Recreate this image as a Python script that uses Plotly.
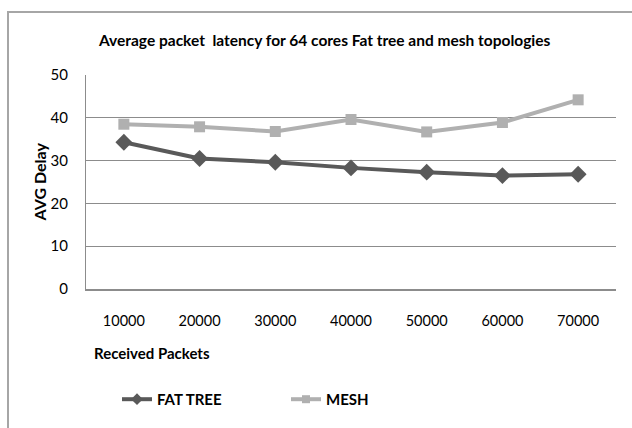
import plotly.graph_objects as go

categories = ["10000", "20000", "30000", "40000", "50000", "60000", "70000"]
fat_tree = [34.3, 30.5, 29.6, 28.3, 27.3, 26.5, 26.8]
mesh = [38.5, 37.9, 36.8, 39.6, 36.7, 38.9, 44.2]
y_ticks = [0, 10, 20, 30, 40, 50]

FONT = "Lato"
DARK, LIGHT = "#595959", "#b0b0b0"
fig = go.Figure()
fig.add_trace(go.Scatter(x=categories, y=fat_tree, name="FAT TREE", mode="lines+markers",
                         line=dict(color=DARK, width=4), showlegend=False,
                         marker=dict(symbol="diamond", size=13, color=DARK)))
fig.add_trace(go.Scatter(x=categories, y=mesh, name="MESH", mode="lines+markers",
                         line=dict(color=LIGHT, width=4), showlegend=False,
                         marker=dict(symbol="square", size=11, color=LIGHT)))
# legend entries with smaller sample markers
fig.add_trace(go.Scatter(x=[None], y=[None], name="<b>FAT TREE</b>", mode="lines+markers",
                         line=dict(color=DARK, width=4),
                         marker=dict(symbol="diamond", size=9, color=DARK)))
fig.add_trace(go.Scatter(x=[None], y=[None], name="<b>MESH</b>", mode="lines+markers",
                         line=dict(color=LIGHT, width=4),
                         marker=dict(symbol="square", size=8, color=LIGHT)))

L, R, T, B = 86, 16, 75, 136
W, H = 632, 428
pw, ph = W - L - R, H - T - B

def px(x):
    return (x - L) / pw

def py(y):
    return (H - B - y) / ph

fig.update_layout(
    width=W, height=H,
    margin=dict(l=L, r=R, t=T, b=B),
    paper_bgcolor="white", plot_bgcolor="white",
    font=dict(family=FONT, size=14, color="#000000"),
    showlegend=True,
    legend=dict(orientation="h", x=px(117), y=py(404), xanchor="left", yanchor="middle",
                font=dict(family=FONT, size=15, color="#000"), entrywidth=124,
                entrywidthmode="pixels", tracegroupgap=0),
    xaxis=dict(type="category", range=[-0.5, 6.5], showgrid=False, showline=True,
               linecolor="#8c8c8c", linewidth=2, ticks="", ticklabelstandoff=18,
               tickfont=dict(family=FONT, size=14.5, color="#000"), fixedrange=True),
    yaxis=dict(range=[0, 50], tickvals=y_ticks, showgrid=True, gridcolor="#8c8c8c",
               gridwidth=1, showline=True, linecolor="#8c8c8c", linewidth=1,
               zeroline=False, ticks="", ticklabelstandoff=14,
               tickfont=dict(family=FONT, size=15, color="#000"), fixedrange=True),
    annotations=[
        dict(text="<b>Average packet  latency for 64 cores Fat tree and mesh topologies</b>",
             xref="paper", yref="paper", x=px(96), y=py(40), xanchor="left", yanchor="middle",
             showarrow=False, font=dict(family=FONT, size=15.5, color="#000")),
        dict(text="<b>AVG Delay</b>", xref="paper", yref="paper", x=px(39), y=py(184),
             xanchor="center", yanchor="middle", textangle=-90, showarrow=False,
             font=dict(family=FONT, size=16, color="#000")),
        dict(text="<b>Received Packets</b>", xref="paper", yref="paper", x=px(92), y=py(357),
             xanchor="left", yanchor="middle", showarrow=False,
             font=dict(family=FONT, size=15, color="#000")),
    ],
    shapes=[
        dict(type="rect", xref="paper", yref="paper", x0=px(8), x1=px(660), y0=py(460), y1=py(11),
             line=dict(color="#a6a6a6", width=2), fillcolor="rgba(0,0,0,0)", layer="below"),
    ],
)

fig.write_html("out.html", config={"displayModeBar": False},
               post_script="document.body.style.margin='0';document.body.style.overflow='hidden';")
